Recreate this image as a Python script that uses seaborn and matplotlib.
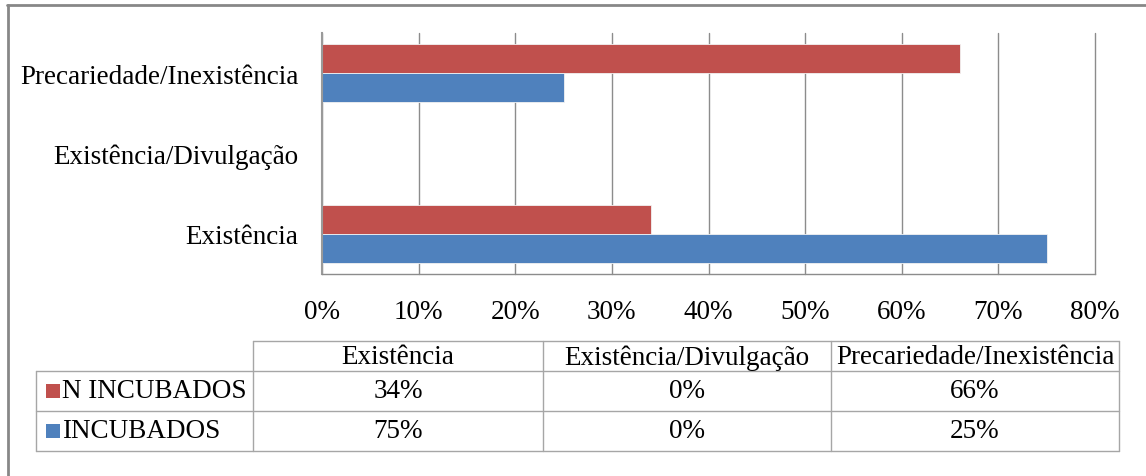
import matplotlib
matplotlib.use("Agg")
import matplotlib.pyplot as plt
from matplotlib.lines import Line2D
from matplotlib.patches import Rectangle
import seaborn as sns
import pandas as pd

# Data
categories = ["Existência", "Existência/Divulgação", "Precariedade/Inexistência"]
series_names = ["N INCUBADOS", "INCUBADOS"]
n_incubados = [34, 0, 66]
incubados = [75, 0, 25]
x_ticks = [0, 10, 20, 30, 40, 50, 60, 70, 80]

colors = {"N INCUBADOS": "#C0504D", "INCUBADOS": "#4F81BD"}
grid_color = "#8C8C8C"
table_color = "#A6A6A6"

sns.set_theme(style="white")
plt.rcParams["font.family"] = ["Liberation Serif", "DejaVu Serif"]
plt.rcParams["text.color"] = "black"
plt.rcParams["xtick.color"] = "black"
plt.rcParams["ytick.color"] = "black"
FS = 19.5

W, H = 1146, 477
fig = plt.figure(figsize=(W / 100, H / 100), dpi=100)
fig.patch.set_facecolor("white")


def fx(px):
    return px / W


def fy(py):
    return 1 - py / H


df = pd.DataFrame({
    "categoria": categories * 2,
    "grupo": [series_names[0]] * 3 + [series_names[1]] * 3,
    "valor": n_incubados + incubados,
})

# Bar chart area
ax = fig.add_axes([fx(322), fy(275), fx(1095) - fx(322), fy(34) - fy(275)])
sns.barplot(
    data=df, x="valor", y="categoria", hue="grupo",
    order=categories[::-1], hue_order=series_names,
    palette=colors, saturation=1, orient="h", width=0.725, ax=ax,
    edgecolor="#F2F2F2", linewidth=0.6, legend=False,
)
ax.set_xlim(0, 80)
ax.set_ylim(2.5, -0.5)
ax.set_xticks(x_ticks)
ax.set_xticklabels([f"{t}%" for t in x_ticks], fontsize=FS)
ax.tick_params(axis="x", length=0, pad=18, colors="black")
ax.tick_params(axis="y", length=0, pad=17, labelsize=FS, colors="black")
ax.set_xlabel("")
ax.set_ylabel("")
ax.set_axisbelow(True)
ax.grid(axis="x", color=grid_color, linewidth=1)
ax.grid(axis="y", visible=False)
for gl in ax.get_xgridlines():
    gl.set_clip_on(False)
for side in ("top", "right"):
    ax.spines[side].set_visible(False)
ax.spines["left"].set_color("#9A9A9A")
ax.spines["left"].set_linewidth(1.5)
ax.spines["bottom"].set_color(grid_color)
ax.spines["bottom"].set_linewidth(1)

# Data table below the chart
col_edges = [253, 543, 831, 1119]
label_left = 36
row_edges = [342, 372, 412, 452]


def hline(x0, x1, y, color=table_color, lw=1):
    fig.add_artist(Line2D([fx(x0), fx(x1)], [fy(y), fy(y)], color=color, lw=lw))


def vline(x, y0, y1, color=table_color, lw=1):
    fig.add_artist(Line2D([fx(x), fx(x)], [fy(y0), fy(y1)], color=color, lw=lw))


hline(col_edges[0], col_edges[-1], row_edges[0])
for y in row_edges[1:]:
    hline(label_left, col_edges[-1], y)
vline(label_left, row_edges[1], row_edges[-1])
for x in col_edges:
    vline(x, row_edges[0], row_edges[-1])

# Header row
for i, cat in enumerate(categories):
    cx = (col_edges[i] + col_edges[i + 1]) / 2
    cy = (row_edges[0] + row_edges[1]) / 2 + 1
    fig.text(fx(cx), fy(cy), cat, ha="center", va="center", fontsize=FS)

# Series rows with colour keys
for r, (name, vals) in enumerate(zip(series_names, [n_incubados, incubados])):
    cy = (row_edges[r + 1] + row_edges[r + 2]) / 2
    fig.add_artist(Rectangle((fx(46), fy(cy + 7)), fx(14), fy(cy - 7) - fy(cy + 7),
                             facecolor=colors[name], edgecolor="none"))
    fig.text(fx(62), fy(cy), name, ha="left", va="center", fontsize=FS)
    for i, v in enumerate(vals):
        cx = (col_edges[i] + col_edges[i + 1]) / 2
        fig.text(fx(cx), fy(cy), f"{v}%", ha="center", va="center", fontsize=FS)

# Outer frame
fig.add_artist(Line2D([fx(7), fx(W)], [fy(6), fy(6)], color="#878787", lw=2))
fig.add_artist(Line2D([fx(8), fx(8)], [fy(6), fy(H)], color="#878787", lw=2))

fig.savefig("out.png", dpi=100)
